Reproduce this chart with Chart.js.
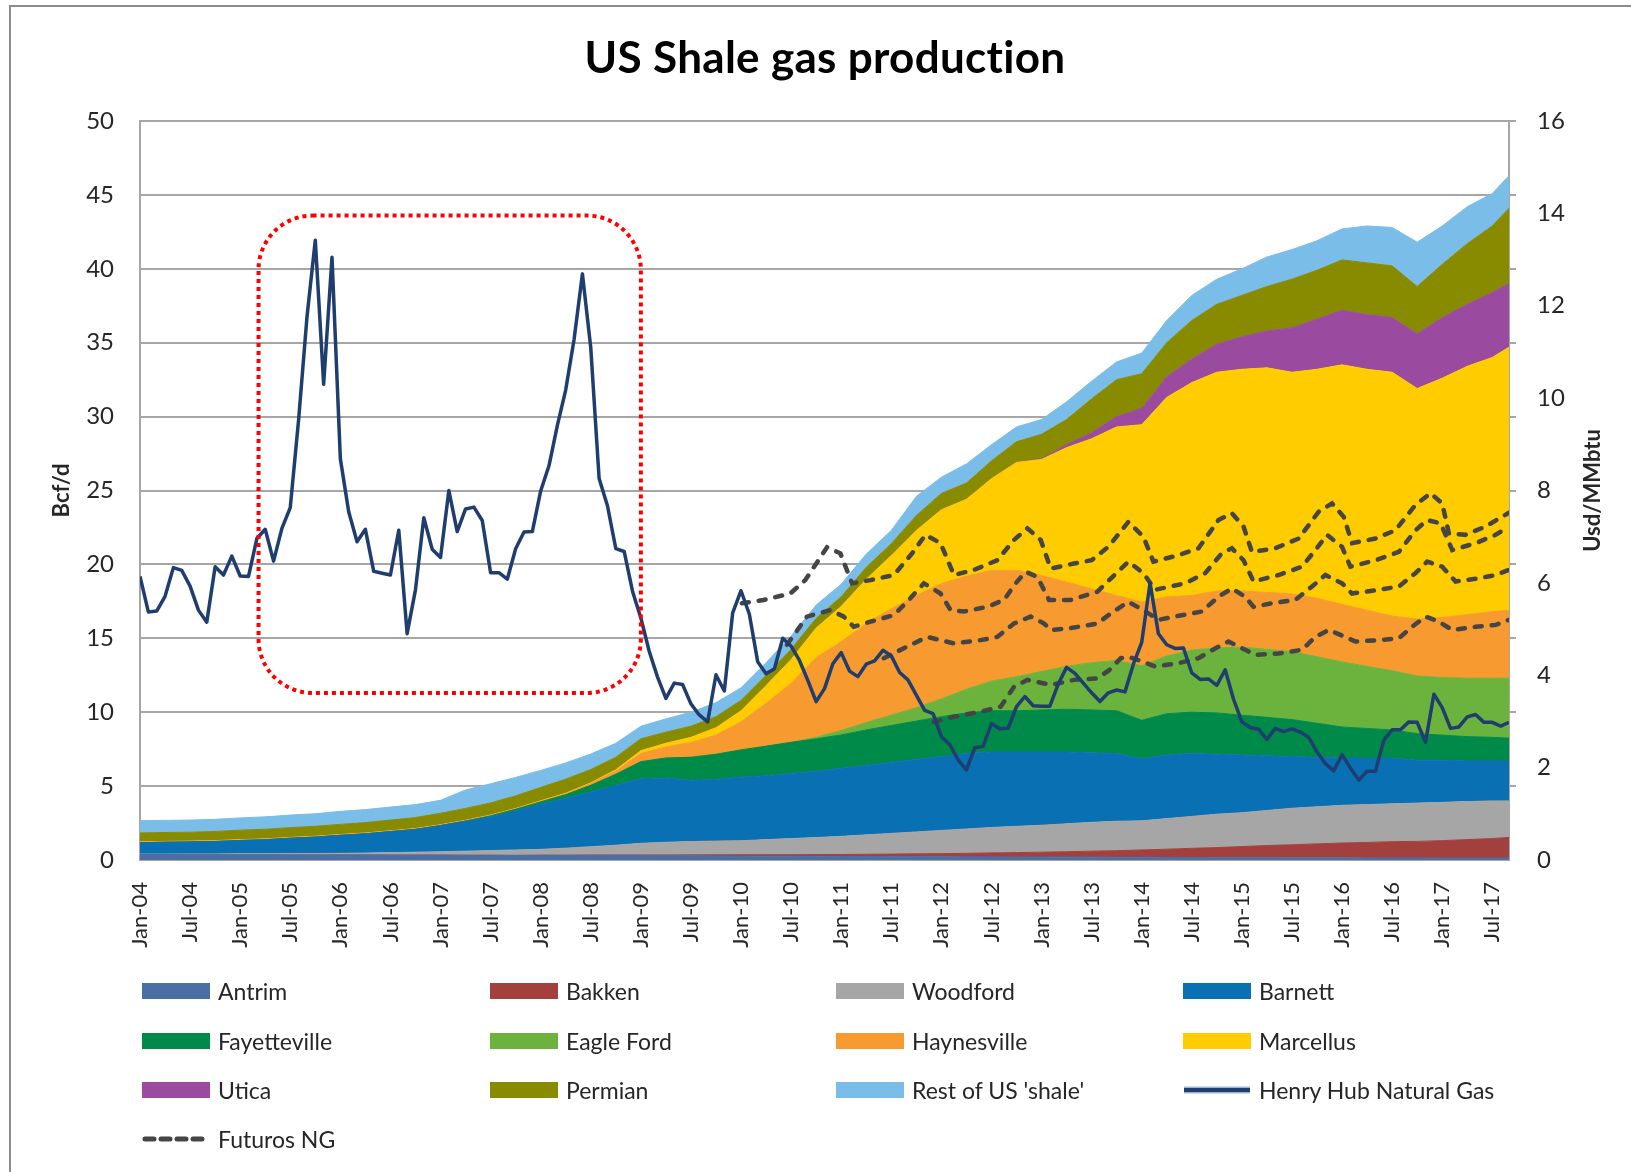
<!DOCTYPE html>
<html>
<head>
<meta charset="utf-8">
<title>US Shale gas production</title>
<script src="https://cdn.jsdelivr.net/npm/chart.js@4.4.1/dist/chart.umd.min.js"></script>
<style>
  html, body { margin: 0; padding: 0; background: #fff; }
  #wrap { position: relative; width: 1631px; height: 1172px; overflow: hidden; }
  #c { position: absolute; left: 0; top: 0; }
  #frame { position: absolute; left: 9px; top: 5px; right: -10px; bottom: -10px;
           border-left: 2px solid #8c8c8c; border-top: 2px solid #8c8c8c; pointer-events: none; }
  .lg { position: absolute; display: flex; align-items: center; height: 30px; margin-top: -15px;
        font: 23px Lato, "Open Sans", sans-serif; color: #262626; white-space: nowrap; }
  .sw { width: 68px; height: 16px; margin-right: 8px; flex: none; }
</style>
</head>
<body>
<div id="wrap">
  <canvas id="c" width="1631" height="1172"></canvas>
  <div id="legend"></div>
  <div id="frame"></div>
</div>
<script>
// ---- categories: months Jan-04 .. Sep-17 (x index 0..164) ----
const MON = ['Jan','Feb','Mar','Apr','May','Jun','Jul','Aug','Sep','Oct','Nov','Dec'];
const months = [];
for (let k = 0; k < 165; k++) months.push(MON[k % 12] + '-' + String(4 + Math.floor(k / 12)).padStart(2, '0'));
const tickMonths = months.map((m, k) => k).filter(k => k % 6 === 0);   // Jan / Jul labels

// ---- stacked production, Bcf/d ----
const stackX = [0,3,6,9,12,15,18,21,24,27,30,33,36,39,42,45,48,51,54,57,60,63,66,69,72,75,78,81,
  84,87,90,93,96,99,102,105,108,111,114,117,120,123,126,129,132,135,138,141,144,147,150,153,156,159,162,164];

const antrim = [0.36,0.36,0.35,0.35, 0.35,0.35,0.34,0.34, 0.34,0.34,0.33,0.33, 0.33,0.32,0.32,0.31,
  0.31,0.30,0.30,0.29, 0.29,0.28,0.28,0.27, 0.27,0.26,0.25,0.25, 0.24,0.24,0.23,0.23,
  0.22,0.21,0.21,0.20, 0.20,0.19,0.19,0.18, 0.18,0.17,0.17,0.16, 0.16,0.16,0.15,0.15,
  0.15,0.14,0.14,0.14, 0.13,0.13,0.13,0.13];
const bakken = [0,0,0,0, 0,0,0,0, 0,0,0,0, 0,0,0,0,
  0.02,0.03,0.04,0.05, 0.05,0.06,0.07,0.08, 0.09,0.10,0.11,0.12, 0.13,0.15,0.17,0.19,
  0.21,0.24,0.27,0.30, 0.33,0.37,0.41,0.45, 0.50,0.56,0.62,0.68, 0.75,0.82,0.88,0.94,
  1.00,1.05,1.10,1.12, 1.18,1.25,1.32,1.40];
const woodford = [0.04,0.04,0.06,0.06, 0.07,0.07,0.09,0.10, 0.11,0.13,0.17,0.20, 0.23,0.28,0.32,0.37,
  0.39,0.47,0.56,0.66, 0.79,0.86,0.90,0.93, 0.94,1.02,1.09,1.15, 1.23,1.31,1.40,1.48,
  1.57,1.65,1.72,1.78, 1.82,1.89,1.95,1.99, 1.97,2.07,2.16,2.26, 2.29,2.37,2.47,2.51,
  2.55,2.56,2.56,2.59, 2.59,2.57,2.55,2.47];
const barnett = [0.77,0.80,0.81,0.84, 0.90,0.95,1.04,1.11, 1.22,1.30,1.42,1.54, 1.77,2.03,2.29,2.65,
  3.06,3.37,3.70,4.05, 4.37,4.35,4.15,4.17, 4.30,4.32,4.41,4.48, 4.60,4.70,4.80,4.90,
  5.00,5.10,5.10,5.02, 4.95,4.85,4.70,4.58, 4.20,4.30,4.25,4.05, 3.90,3.70,3.50,3.35,
  3.20,3.15,3.10,2.90, 2.85,2.75,2.70,2.70];
const fayetteville = [0,0,0,0, 0,0,0,0, 0,0,0,0, 0,0,0.05,0.10,
  0.15,0.25,0.45,0.75, 1.15,1.35,1.55,1.70, 1.85,2.00,2.10,2.20, 2.26,2.40,2.50,2.60,
  2.70,2.75,2.80,2.80, 2.85,2.90,2.90,2.90, 2.60,2.80,2.80,2.80, 2.70,2.60,2.50,2.30,
  2.10,2.00,1.90,1.80, 1.70,1.65,1.60,1.55];
const eagleFord = [0,0,0,0, 0,0,0,0, 0,0,0,0, 0,0,0,0,
  0,0,0,0, 0,0,0,0, 0,0,0,0.10, 0.30,0.50,0.70,0.90,
  1.20,1.60,2.00,2.30, 2.60,2.90,3.20,3.40, 3.70,3.90,4.20,4.40, 4.60,4.60,4.60,4.50,
  4.40,4.20,4.00,3.90, 3.90,3.95,4.00,4.05];
const haynesville = [0.04,0.04,0.04,0.04, 0.04,0.04,0.04,0.04, 0.04,0.04,0.04,0.04, 0.04,0.04,0.04,0.04,
  0.05,0.06,0.12,0.22, 0.55,0.75,1.00,1.30, 1.90,2.90,4.00,5.40, 6.00,6.70,7.20,7.60,
  7.80,7.65,7.50,7.20, 6.50,5.70,5.00,4.40, 4.30,4.00,3.70,3.85, 3.80,3.85,3.90,3.95,
  3.90,3.80,3.70,3.85, 4.05,4.30,4.50,4.60];
const marcellus = [0.02,0.02,0.02,0.02, 0.02,0.02,0.02,0.02, 0.02,0.02,0.02,0.02, 0.02,0.02,0.02,0.02,
  0.03,0.04,0.05,0.08, 0.20,0.25,0.35,0.50, 0.75,1.20,1.60,2.00, 2.40,3.00,3.60,4.40,
  5.00,5.20,6.20,7.30, 7.85,9.10,10.15,11.40, 12.00,13.50,14.40,14.80, 15.00,15.20,15.00,15.50,
  16.20,16.30,16.50,15.60, 16.20,16.80,17.20,17.80];
const utica = [0,0,0,0, 0,0,0,0, 0,0,0,0, 0,0,0,0,
  0,0,0,0, 0,0,0,0, 0,0,0,0, 0,0,0,0,
  0,0,0,0, 0.05,0.20,0.40,0.70, 1.10,1.40,1.60,1.90, 2.20,2.50,3.00,3.40,
  3.70,3.70,3.70,3.70, 4.10,4.20,4.40,4.30];
const permian = [0.60,0.60,0.60,0.62, 0.64,0.65,0.66,0.67, 0.68,0.70,0.72,0.74, 0.77,0.80,0.82,0.85,
  0.90,0.95,0.90,0.85, 0.80,0.75,0.75,0.75, 0.70,0.70,0.70,0.65, 0.65,0.80,0.80,1.00,
  1.10,1.10,1.20,1.40, 1.65,1.70,2.30,2.50, 2.35,2.30,2.60,2.70, 2.80,3.00,3.30,3.30,
  3.40,3.50,3.50,3.20, 3.60,4.10,4.50,5.10];
const restShale = [0.83,0.82,0.82,0.82, 0.83,0.84,0.85,0.85, 0.88,0.88,0.88,0.88, 0.88,1.25,1.30,1.25,
  1.15,1.10,1.05,0.95, 0.85,0.90,0.95,0.95, 0.85,0.85,0.90,0.90, 0.85,0.90,0.90,1.30,
  1.10,1.30,1.10,1.00, 1.00,1.20,1.20,1.20, 1.40,1.50,1.70,1.70, 1.80,2.00,2.00,2.00,
  2.10,2.50,2.60,3.00, 2.60,2.50,2.20,2.20];

// ---- Henry Hub spot, Usd/MMbtu, monthly Jan-04 .. Sep-17 ----
const henryHub = [
  6.14,5.37,5.39,5.71,6.33,6.27,5.93,5.41,5.15,6.35,6.17,6.58,
  6.15,6.14,6.96,7.16,6.47,7.18,7.63,9.53,11.75,13.42,10.30,13.05,
  8.69,7.54,6.89,7.16,6.25,6.21,6.17,7.14,4.90,5.85,7.41,6.73,
  6.55,8.00,7.11,7.60,7.64,7.35,6.22,6.22,6.08,6.74,7.10,7.11,
  7.99,8.54,9.41,10.18,11.27,12.69,11.09,8.26,7.67,6.74,6.68,5.82,
  5.24,4.52,3.96,3.50,3.83,3.80,3.38,3.14,2.99,4.01,3.66,5.35,
  5.83,5.32,4.29,4.03,4.14,4.80,4.63,4.32,3.89,3.43,3.71,4.25,
  4.49,4.09,3.97,4.24,4.31,4.54,4.42,4.06,3.90,3.57,3.24,3.17,
  2.67,2.50,2.17,1.95,2.43,2.46,2.95,2.84,2.85,3.32,3.54,3.34,
  3.33,3.33,3.81,4.17,4.04,3.83,3.62,3.43,3.62,3.68,3.64,4.24,
  4.71,6.00,4.90,4.66,4.58,4.59,4.05,3.91,3.92,3.78,4.12,3.48,
  2.99,2.87,2.83,2.61,2.85,2.78,2.84,2.77,2.66,2.34,2.09,1.93,
  2.28,1.99,1.73,1.92,1.92,2.59,2.82,2.82,2.99,2.98,2.55,3.59,
  3.30,2.85,2.88,3.10,3.15,2.98,2.98,2.90,2.98];

// ---- NG futures strips [month index, Usd/MMbtu] ----
const futuresA = [[72.1,5.56],[74.7,5.63],[77.9,5.77],[79.7,6.06],[82.3,6.77],[83.9,6.64],[85.3,5.99],
  [87.5,6.06],[90.3,6.17],[92.5,6.64],[94.1,7.04],[95.9,6.86],[97.5,6.17],[99.9,6.28],[102.7,6.49],
  [104.7,6.93],[106.3,7.18],[107.9,6.93],[109.1,6.31],[111.9,6.42],[114,6.49],[116,6.78],[118.4,7.32],
  [120.2,7.00],[121.4,6.46],[124.4,6.60],[126.8,6.75],[129.2,7.36],[130.8,7.51],[132.2,7.22],[133.2,6.67],
  [136,6.75],[138.8,6.96],[141.2,7.54],[142.8,7.72],[144.2,7.43],[145.2,6.86],[148,6.96],[150.4,7.14],
  [152.8,7.69],[154.6,7.94],[156,7.72],[156.8,7.07],[158.8,7.04],[161.2,7.22],[164,7.52]];
const futuresB = [[77.5,4.66],[79.9,5.27],[82.7,5.41],[84.3,5.27],[85.5,5.05],[87.5,5.16],[90.3,5.30],
  [91.9,5.59],[93.9,5.99],[95.9,5.77],[97.1,5.41],[98.7,5.38],[101.5,5.48],[103.5,5.63],[104.9,5.99],
  [106.1,6.24],[107.5,6.13],[108.9,5.63],[111.5,5.63],[114.7,5.81],[116.1,6.06],[118.4,6.46],[120.2,6.21],
  [121.6,5.85],[125.2,5.99],[127.6,6.21],[129.6,6.64],[130.8,6.75],[132.2,6.49],[133.4,6.03],[136.4,6.17],
  [139.2,6.35],[140.8,6.71],[142.2,7.04],[144,6.78],[145,6.35],[148,6.49],[150.8,6.67],[152.8,7.14],
  [154.2,7.36],[155.8,7.29],[157.2,6.71],[160,6.86],[162.4,7.04],[164,7.22]];
const futuresC = [[89.1,4.37],[91.9,4.62],[94.3,4.83],[95.9,4.76],[97.5,4.69],[100.7,4.76],[102.7,4.83],
  [104.7,5.12],[106.7,5.27],[108.3,5.12],[109.1,4.98],[111.5,5.02],[114.7,5.12],[116.3,5.34],[118.4,5.59],
  [120.2,5.41],[122,5.20],[124.8,5.30],[127.2,5.38],[129.2,5.70],[130.8,5.88],[132.4,5.70],[133.4,5.48],
  [135.6,5.56],[138.4,5.63],[140.4,5.92],[142,6.17],[144,5.99],[145.2,5.77],[148.4,5.85],[150.8,5.92],
  [152.8,6.21],[154.2,6.46],[156,6.35],[157.6,6.03],[160.4,6.10],[162.4,6.17],[164,6.28]];
const futuresD = [[95.1,2.99],[97.5,3.10],[100.7,3.21],[103.1,3.32],[104.7,3.75],[106.3,3.90],[109.1,3.79],
  [111.9,3.90],[114.7,3.93],[116.1,4.11],[117.5,4.37],[118.4,4.40],[120.2,4.29],[121.6,4.19],[124.4,4.26],
  [126.8,4.37],[128.8,4.58],[130.4,4.73],[132.4,4.55],[133.6,4.44],[136.4,4.47],[139.2,4.55],[140.8,4.83],
  [142.4,4.98],[144.4,4.83],[145.6,4.73],[148.4,4.76],[150.8,4.80],[152.4,5.05],[154,5.27],[155.6,5.16],
  [157.2,4.98],[160,5.05],[162.4,5.09],[164,5.20]];

// red dotted box round the 2005-2008 price spikes: [x from, x to, Bcf/d from, Bcf/d to]
const highlightBox = [14.2, 60.0, 11.3, 43.6];

// ---- series styling ----
const areaNames = ['Antrim','Bakken','Woodford','Barnett','Fayetteville','Eagle Ford','Haynesville',
  'Marcellus','Utica','Permian',"Rest of US 'shale'"];
const areaColors = ['#4a6fa5','#a3403d','#a6a6a6','#0a70b4','#008a4a','#6cb33e','#f79a30',
  '#ffcc00','#9a4ba0','#888b00','#79bde8'];
const areaValues = [antrim, bakken, woodford, barnett, fayetteville, eagleFord, haynesville,
  marcellus, utica, permian, restShale];
const HH_COLOR = '#1f3d6e', FUT_COLOR = '#454545', GRID = '#a6a6a6';
const FONT = 'Lato, "Open Sans", sans-serif';

const datasets = areaValues.map((vals, s) => ({
  label: areaNames[s],
  data: vals.map((v, k) => ({ x: stackX[k], y: v })),
  yAxisID: 'y', order: 2,
  backgroundColor: areaColors[s], borderColor: areaColors[s], borderWidth: 1,
  fill: s === 0 ? 'origin' : '-1', pointRadius: 0,
}));
datasets.push({
  label: 'Henry Hub Natural Gas', yAxisID: 'y1', order: 1,
  data: henryHub.map((v, k) => ({ x: k, y: v })),
  borderColor: HH_COLOR, borderWidth: 3.5, borderJoinStyle: 'round', fill: false, pointRadius: 0,
});
[futuresA, futuresB, futuresC, futuresD].forEach((f) => datasets.push({
  label: 'Futuros NG', yAxisID: 'y1', order: 1,
  data: f.map(([x, y]) => ({ x, y })),
  borderColor: FUT_COLOR, borderWidth: 4.5, borderDash: [7, 10], borderCapStyle: 'round',
  fill: false, pointRadius: 0,
}));

// titles, axis names and the dotted box
const decor = {
  id: 'decor',
  afterDatasetsDraw(chart) {
    const { ctx, scales: { x, y } } = chart;
    const [x0, x1, v0, v1] = highlightBox;
    const L = x.getPixelForValue(x0), R = x.getPixelForValue(x1);
    const T = y.getPixelForValue(v1), B = y.getPixelForValue(v0);
    ctx.save();
    ctx.strokeStyle = '#ff0000'; ctx.lineWidth = 4; ctx.setLineDash([4, 4]);
    ctx.beginPath(); ctx.roundRect(L, T, R - L, B - T, 54); ctx.stroke();
    ctx.restore();
  },
  afterDraw(chart) {
    const { ctx, chartArea: a, scales: { y } } = chart;
    const mid = (a.top + a.bottom) / 2;
    ctx.save();
    ctx.fillStyle = '#000'; ctx.textAlign = 'center'; ctx.textBaseline = 'middle';
    ctx.font = 'bold 44px ' + FONT;
    if ('letterSpacing' in ctx) ctx.letterSpacing = '0.3px';   // also keeps "ti" from joining
    ctx.fillText('US Shale gas production', 825, 59);
    if ('letterSpacing' in ctx) ctx.letterSpacing = '0px';
    ctx.fillStyle = '#262626'; ctx.font = 'bold 22px ' + FONT;
    [[62, 'Bcf/d'], [1593, 'Usd/MMbtu']].forEach(([cx, t]) => {
      ctx.save(); ctx.translate(cx, mid); ctx.rotate(-Math.PI / 2); ctx.fillText(t, 0, 0); ctx.restore();
    });
    // little outside tick marks on the secondary axis
    ctx.strokeStyle = GRID; ctx.lineWidth = 2;
    for (let v = 5; v <= 50; v += 5) {
      const py = Math.round(y.getPixelForValue(v));
      ctx.beginPath(); ctx.moveTo(a.right, py); ctx.lineTo(a.right + 7, py); ctx.stroke();
    }
    ctx.restore();
  },
};

const tickFont = { family: FONT, size: 24 };
new Chart(document.getElementById('c'), {
  type: 'line',
  data: { datasets },
  options: {
    responsive: false, animation: false, devicePixelRatio: 1,
    layout: { padding: { top: 121, bottom: 212, left: 0, right: 0 } },
    plugins: { legend: { display: false }, tooltip: { enabled: false }, title: { display: false } },
    elements: { line: { tension: 0 } },
    scales: {
      x: {
        type: 'linear', min: 0, max: 164,
        afterBuildTicks: (s) => { s.ticks = tickMonths.map((v) => ({ value: v })); },
        ticks: { callback: (v) => months[v], minRotation: 90, maxRotation: 90, padding: 14,
                 font: { family: FONT, size: 22 }, color: '#262626' },
        grid: { display: false }, border: { color: GRID, width: 2 },
        afterFit: (s) => { s.height = 100; },
      },
      y: {
        stacked: true, min: 0, max: 50,
        ticks: { stepSize: 5, padding: 26, font: tickFont, color: '#262626' },
        grid: { color: GRID, lineWidth: 2, drawTicks: false }, border: { color: GRID, width: 2 },
        afterFit: (s) => { s.width = 140; },
      },
      y1: {
        position: 'right', min: 0, max: 16,
        ticks: { stepSize: 2, padding: 28, font: tickFont, color: '#262626' },
        grid: { drawOnChartArea: false, drawTicks: false }, border: { color: GRID, width: 2 },
        afterFit: (s) => { s.width = 122; },
      },
    },
  },
  plugins: [decor],
});

// ---- legend (4 columns, as in the original) ----
const legendItems = areaNames.map((n, s) => ({ name: n, color: areaColors[s], kind: 'box' }))
  .concat([{ name: 'Henry Hub Natural Gas', color: HH_COLOR, kind: 'line' },
           { name: 'Futuros NG', color: FUT_COLOR, kind: 'dash' }]);
const colX = [142, 490, 836, 1183], rowY = [991, 1041, 1090, 1139];
const lg = document.getElementById('legend');
legendItems.forEach((it, k) => {
  const d = document.createElement('div');
  d.className = 'lg';
  d.style.left = colX[k % 4] + 'px';
  d.style.top = rowY[Math.floor(k / 4)] + 'px';
  let sw;
  if (it.kind === 'box') {
    sw = `<div class="sw" style="background:${it.color}"></div>`;
  } else if (it.kind === 'line') {
    sw = `<svg class="sw" width="68" height="16"><line x1="1" y1="8" x2="67" y2="8" stroke="#9fb3d1" stroke-width="7"/>` +
         `<line x1="1" y1="8" x2="67" y2="8" stroke="${it.color}" stroke-width="4"/></svg>`;
  } else {
    sw = `<svg class="sw" width="68" height="16"><line x1="3" y1="8" x2="66" y2="8" stroke="${it.color}" stroke-width="5"` +
         ` stroke-dasharray="9 7" stroke-linecap="round"/></svg>`;
  }
  d.innerHTML = sw + `<span>${it.name}</span>`;
  lg.appendChild(d);
});
</script>
</body>
</html>
